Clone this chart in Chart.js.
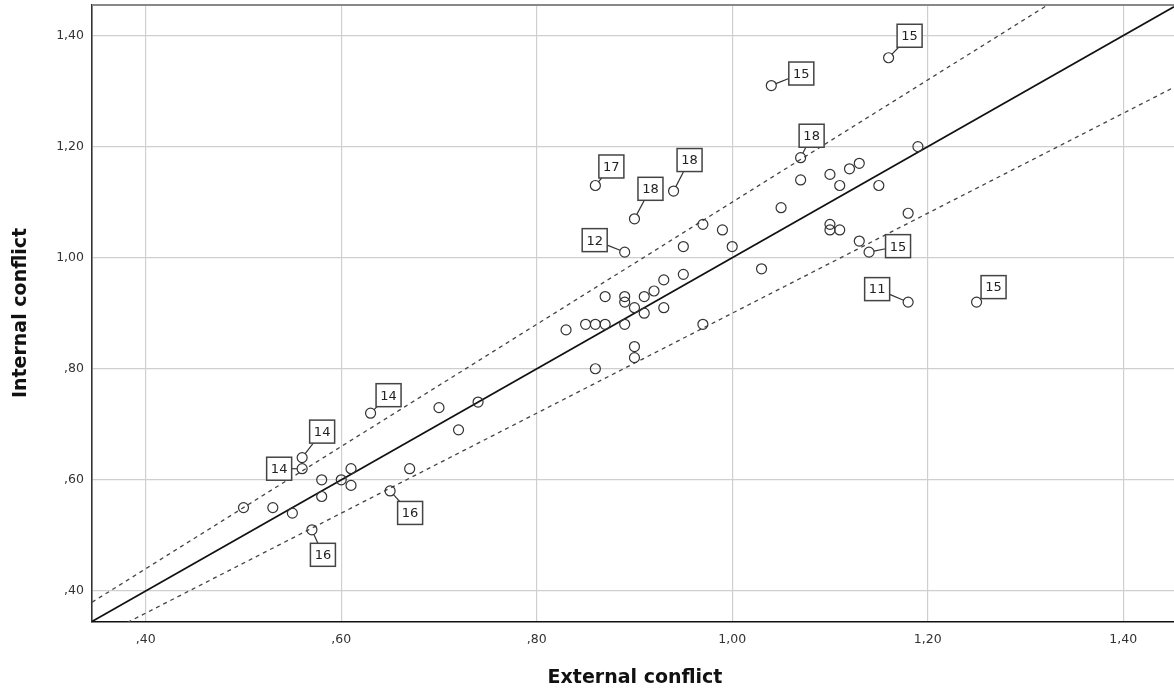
<!DOCTYPE html>
<html>
<head>
<meta charset="utf-8">
<script src="https://cdn.jsdelivr.net/npm/chart.js@4.4.1/dist/chart.umd.min.js"></script>
<style>
  html, body { margin: 0; padding: 0; background: #fff; overflow: hidden; }
  canvas { display: block; }
</style>
</head>
<body>
<canvas id="scatter" width="1174" height="694"></canvas>
<script>
'use strict';

/* data */

const externalConflict = [
    1.16, 1.04, 1.07, 0.86, 0.94, 0.90, 0.89, 1.14, 1.18, 1.25,
    0.63, 0.56, 0.56, 0.65, 0.57,
    1.19, 1.07, 1.10, 1.12, 1.13, 1.11, 1.15, 1.05, 1.18, 1.10, 1.10, 1.11, 1.13, 1.03,
    0.97, 0.99, 0.95, 1.00, 0.95, 0.93, 0.92, 0.91, 0.93, 0.91, 0.90, 0.89, 0.89, 0.87,
    0.83, 0.85, 0.86, 0.87, 0.89, 0.97, 0.90, 0.90, 0.86,
    0.70, 0.74, 0.72, 0.61, 0.58, 0.60, 0.61, 0.58, 0.67, 0.50, 0.53, 0.55
];

const internalConflict = [
    1.36, 1.31, 1.18, 1.13, 1.12, 1.07, 1.01, 1.01, 0.92, 0.92,
    0.72, 0.64, 0.62, 0.58, 0.51,
    1.20, 1.14, 1.15, 1.16, 1.17, 1.13, 1.13, 1.09, 1.08, 1.06, 1.05, 1.05, 1.03, 0.98,
    1.06, 1.05, 1.02, 1.02, 0.97, 0.96, 0.94, 0.93, 0.91, 0.90, 0.91, 0.93, 0.92, 0.93,
    0.87, 0.88, 0.88, 0.88, 0.88, 0.88, 0.84, 0.82, 0.80,
    0.73, 0.74, 0.69, 0.62, 0.60, 0.60, 0.59, 0.57, 0.62, 0.55, 0.55, 0.54
];

// case labels for the marked points (first 15 points)
const caseLabels = ['15', '15', '18', '17', '18', '18', '12', '15', '11', '15', '14', '14', '14', '16', '16'];

const tickValues = [0.4, 0.6, 0.8, 1.0, 1.2, 1.4];

// reference lines: y = slope * x
const refSlopes = [1.0, 1.1, 0.9];

/* layout and styling */

const xMin = 0.345, xMax = 1.452;
const yMin = 0.344, yMax = 1.455;

// pixel offset of each label box from its point
const labelOffsets = [
    [21, -22], [30, -12], [11, -22], [16, -19], [16, -31], [16, -30], [-30, -12], [29, -6],
    [-31, -13], [17, -15], [18, -18], [20, -26], [-23, 0], [20, 22], [11, 25]
];

const tickFont = { family: '"DejaVu Sans", sans-serif', size: 12.5 };
const tickColor = '#333';

function fmtTick(v) {
    let s = Number(v).toFixed(2).replace('.', ',');
    if (s.startsWith('0')) s = s.slice(1);
    return s;
}

const points = externalConflict.map((x, i) => ({ x: x, y: internalConflict[i] }));

function refLine(slope) {
    return [
        { x: xMin, y: slope * xMin },
        { x: xMax, y: slope * xMax }
    ];
}

// boxes with case numbers, axis titles and the top frame line
const annotatePlugin = {
    id: 'annotate',
    afterDatasetsDraw(chart) {
        const ctx = chart.ctx;
        const meta = chart.getDatasetMeta(0);
        const halfW = 12.5, halfH = 11.5, r = 5;

        ctx.save();
        ctx.font = '13px "DejaVu Sans", sans-serif';
        ctx.textAlign = 'center';
        ctx.textBaseline = 'middle';

        caseLabels.forEach((text, i) => {
            const pt = meta.data[i];
            const [dx, dy] = labelOffsets[i];
            const bx = pt.x + dx, by = pt.y + dy;
            const len = Math.hypot(dx, dy);
            const t = Math.min(halfW / Math.max(Math.abs(dx), 1e-6), halfH / Math.max(Math.abs(dy), 1e-6));

            if (t < 1 && len > r) {
                ctx.beginPath();
                ctx.strokeStyle = '#333';
                ctx.lineWidth = 1.2;
                ctx.moveTo(pt.x + dx / len * r, pt.y + dy / len * r);
                ctx.lineTo(bx - dx * t, by - dy * t);
                ctx.stroke();
            }

            ctx.fillStyle = '#fff';
            ctx.fillRect(bx - halfW, by - halfH, halfW * 2, halfH * 2);
            ctx.strokeStyle = '#444';
            ctx.lineWidth = 1.5;
            ctx.strokeRect(bx - halfW, by - halfH, halfW * 2, halfH * 2);
            ctx.fillStyle = '#222';
            ctx.fillText(text, bx, by + 1);
        });

        // top frame
        const area = chart.chartArea;
        ctx.beginPath();
        ctx.strokeStyle = '#888';
        ctx.lineWidth = 2;
        ctx.moveTo(area.left, area.top);
        ctx.lineTo(area.right, area.top);
        ctx.stroke();

        // axis titles
        ctx.fillStyle = '#111';
        ctx.font = 'bold 19px "DejaVu Sans", sans-serif';
        ctx.fillText('External conflict', 635, 678);
        ctx.translate(21, 313);
        ctx.rotate(-Math.PI / 2);
        ctx.fillText('Internal conflict', 0, 0);
        ctx.restore();
    }
};

const lineStyles = [
    { borderColor: '#111', borderWidth: 1.8, borderDash: [] },
    { borderColor: '#444', borderWidth: 1.3, borderDash: [4, 4] },
    { borderColor: '#444', borderWidth: 1.3, borderDash: [4, 4] }
];

const scatterData = {
    datasets: [
        {
            label: 'cases',
            data: points,
            pointStyle: 'circle',
            pointRadius: 5,
            pointBackgroundColor: 'rgba(0,0,0,0)',
            pointBorderColor: '#333',
            pointBorderWidth: 1.2,
            showLine: false
        },
        ...refSlopes.map((s, i) => ({
            label: 'ref ' + s,
            type: 'line',
            data: refLine(s),
            pointRadius: 0,
            fill: false,
            borderColor: lineStyles[i].borderColor,
            borderWidth: lineStyles[i].borderWidth,
            borderDash: lineStyles[i].borderDash
        }))
    ]
};

const scatterConfig = {
    type: 'scatter',
    data: scatterData,
    options: {
        responsive: false,
        animation: false,
        devicePixelRatio: 1,
        layout: {
            autoPadding: false,
            padding: { top: 5, left: 0, right: 0, bottom: 0 }
        },
        scales: {
            x: {
                type: 'linear',
                min: xMin,
                max: xMax,
                afterBuildTicks: scale => {
                    scale.ticks = tickValues.map(v => ({ value: v }));
                },
                afterFit: scale => {
                    scale.height = 72;
                    scale.paddingLeft = 0;
                    scale.paddingRight = 0;
                },
                grid: {
                    color: '#cfcfcf',
                    lineWidth: 1.2,
                    drawTicks: false
                },
                border: { display: true, color: '#111', width: 1.6 },
                ticks: {
                    autoSkip: false,
                    maxRotation: 0,
                    padding: 10,
                    color: tickColor,
                    font: tickFont,
                    callback: value => fmtTick(value)
                }
            },
            y: {
                type: 'linear',
                min: yMin,
                max: yMax,
                afterBuildTicks: scale => {
                    scale.ticks = tickValues.map(v => ({ value: v }));
                },
                afterFit: scale => {
                    scale.width = 92;
                    scale.paddingTop = 0;
                    scale.paddingBottom = 0;
                },
                grid: {
                    color: '#cfcfcf',
                    lineWidth: 1.2,
                    drawTicks: false
                },
                border: { display: true, color: '#333', width: 1.6 },
                ticks: {
                    autoSkip: false,
                    padding: 8,
                    color: tickColor,
                    font: tickFont,
                    callback: value => fmtTick(value)
                }
            }
        },
        plugins: {
            legend: { display: false },
            tooltip: { enabled: false }
        }
    },
    plugins: [annotatePlugin]
};

const scatterChart = new Chart(document.querySelector('#scatter'), scatterConfig);
</script>
</body>
</html>
